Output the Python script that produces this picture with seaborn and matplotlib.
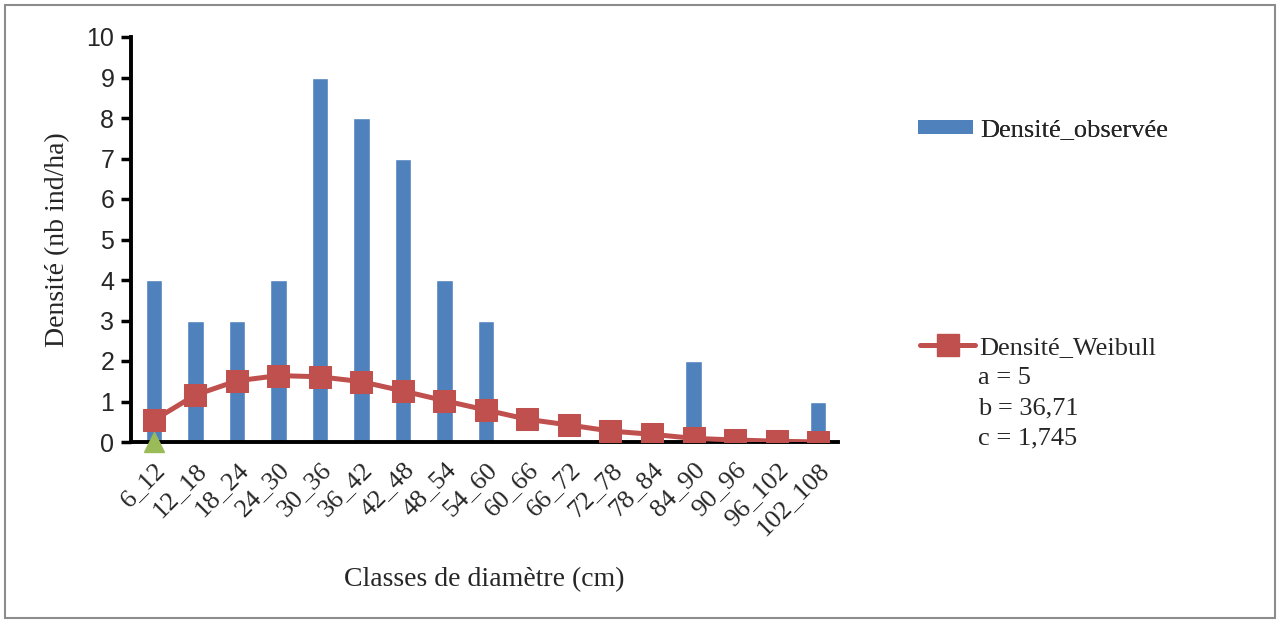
import numpy as np
import pandas as pd
import matplotlib
matplotlib.use("Agg")
import matplotlib.pyplot as plt
import matplotlib.patches as mpatches
import matplotlib.transforms as mtransforms
from matplotlib.lines import Line2D
import seaborn as sns

classes = ["6_12", "12_18", "18_24", "24_30", "30_36", "36_42", "42_48", "48_54",
           "54_60", "60_66", "66_72", "72_78", "78_84", "84_90", "90_96", "96_102", "102_108"]
observed = [4, 3, 3, 4, 9, 8, 7, 4, 3, 0, 0, 0, 0, 2, 0, 0, 1]
weibull = [0.54, 1.16, 1.51, 1.64, 1.61, 1.49, 1.26, 1.02, 0.79, 0.56, 0.42, 0.27,
           0.19, 0.09, 0.05, 0.02, 0.0]
marker_class = ["6_12"]
marker_value = [0]
weibull_params = ["a = 5", "b = 36,71", "c = 1,745"]

sns.set_style("white")
plt.rcParams['font.family'] = ['Liberation Serif', 'DejaVu Serif']

BLUE = "#4F81BD"
RED = "#C0504D"
GREEN = "#9BBB59"
FS = 19

fig = plt.figure(figsize=(12.8, 6.21), dpi=100)
ax = fig.add_axes([131/1280, 1-442/621, (838-131)/1280, (442-37)/621])

df = pd.DataFrame({"classe": classes, "obs": observed, "weib": weibull})
sns.barplot(data=df, x="classe", y="obs", color=BLUE, width=0.4, saturation=1,
            ax=ax, zorder=2)
pos = np.arange(len(classes))
sns.lineplot(x=pos, y=weibull, ax=ax, color=RED, lw=3.6, marker="s", markersize=16,
             markeredgecolor=RED, zorder=4)
mpos = [classes.index(c) for c in marker_class]
ax.plot(mpos, marker_value, linestyle="none", marker="^", markersize=15,
        color=GREEN, clip_on=False, zorder=5)

ax.set_xlim(-0.55, 16.48)
ax.set_ylim(0, 10)
ax.set_yticks(range(0, 11))
ax.set_yticklabels([str(i) for i in range(0, 11)], family=['Liberation Sans'], fontsize=18)
ax.set_xticks(pos)
ax.set_xticklabels(classes, rotation=45, ha="right", rotation_mode="anchor", fontsize=FS)
shift = mtransforms.ScaledTranslation(8/100, 4/100, fig.dpi_scale_trans)
for lbl in ax.get_xticklabels():
    lbl.set_transform(lbl.get_transform() + shift)
ax.tick_params(axis="y", direction="out", length=7, width=2.5, color="black", pad=5, left=True)
ax.tick_params(axis="x", length=0, pad=12)
for s in ["top", "right"]:
    ax.spines[s].set_visible(False)
for s in ["left", "bottom"]:
    ax.spines[s].set_color("black")
    ax.spines[s].set_linewidth(2.8)
ax.set_xlabel("Classes de diamètre (cm)", fontsize=FS + 1, labelpad=20)
ax.set_ylabel("Densité (nb ind/ha)", fontsize=FS + 1, labelpad=12)

h1 = mpatches.Rectangle((0, 0), 1, 1, facecolor=BLUE, edgecolor="none")
leg1 = fig.legend(handles=[h1], labels=["Densité_observée"], loc="center left",
                  bbox_to_anchor=(918/1280, 1-130/621), frameon=False, fontsize=FS,
                  handlelength=2.1, handleheight=0.45, handletextpad=0.25, borderpad=0,
                  borderaxespad=0)
h2 = Line2D([], [], color=RED, lw=3.6, marker="s", markersize=16, markeredgecolor=RED)
leg2 = fig.legend(handles=[h2], labels=["Densité_Weibull"], loc="center left",
                  bbox_to_anchor=(920/1280, 1-347/621), frameon=False, fontsize=FS,
                  handlelength=2.1, handletextpad=0.15, borderpad=0, borderaxespad=0)
fig.add_artist(leg1)
for i, t in enumerate(weibull_params):
    fig.text(978/1280, 1-(378 + 30*i)/621, t, fontsize=FS, va="center", ha="left")

fig.add_artist(mpatches.Rectangle((5/1280, 3/621), 1270/1280, 613/621, fill=False,
                                  edgecolor="#8c8c8c", lw=1.5, transform=fig.transFigure))

fig.savefig("out.png", dpi=100)
